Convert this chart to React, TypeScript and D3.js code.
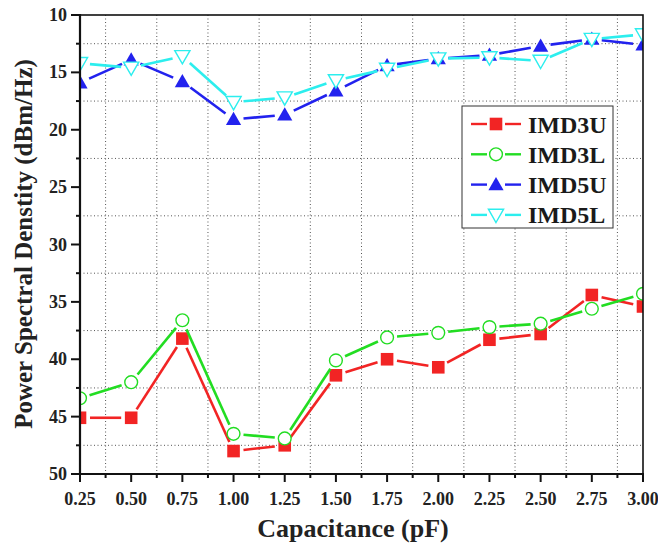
import React, { useEffect } from 'react';
import * as d3 from 'd3';

// capacitance steps (pF)
const capacitance = [0.25, 0.5, 0.75, 1.0, 1.25, 1.5, 1.75, 2.0, 2.25, 2.5, 2.75, 3.0];

// power spectral density readings (dBm/Hz)
const imd3u = [45.1, 45.1, 38.2, 48.0, 47.5, 41.4, 40.0, 40.7, 38.3, 37.8, 34.4, 35.4];
const imd3l = [43.4, 42.0, 36.6, 46.5, 46.9, 40.1, 38.1, 37.7, 37.2, 36.9, 35.6, 34.3];
const imd5u = [15.9, 13.9, 15.8, 19.1, 18.7, 16.6, 14.4, 13.8, 13.5, 12.7, 12.1, 12.6];
const imd5l = [14.2, 14.6, 13.6, 17.6, 17.2, 15.7, 14.7, 13.8, 13.7, 14.0, 12.1, 11.7];

const seriesNames = ['IMD3U', 'IMD3L', 'IMD5U', 'IMD5L'];
const seriesValues = [imd3u, imd3l, imd5u, imd5l];

const xTicks = [0.25, 0.5, 0.75, 1.0, 1.25, 1.5, 1.75, 2.0, 2.25, 2.5, 2.75, 3.0];
const yTicks = [10, 15, 20, 25, 30, 35, 40, 45, 50];

const W = 658;
const H = 543;
const margin = { top: 15, right: 15, bottom: 69, left: 80 };

const styles = [
  { color: '#f22424', shape: 'square', filled: true },
  { color: '#22dd22', shape: 'circle', filled: false },
  { color: '#2222ee', shape: 'up', filled: true },
  { color: '#2ceeee', shape: 'down', filled: false },
];

const FONT = '"Liberation Serif", "Times New Roman", serif';

function Marker({ shape, color, filled, x, y }: any) {
  const fill = filled ? color : 'white';
  const sw = filled ? 0 : 1.4;
  if (shape === 'square') {
    return <rect x={x - 6.3} y={y - 6.3} width={12.6} height={12.6} fill={fill} />;
  }
  if (shape === 'circle') {
    return <circle cx={x} cy={y} r={6.4} fill={fill} stroke={color} strokeWidth={sw} />;
  }
  const s = 7.6;
  const pts =
    shape === 'up'
      ? `${x},${y - s} ${x + s},${y + s * 0.75} ${x - s},${y + s * 0.75}`
      : `${x},${y + s} ${x + s},${y - s * 0.75} ${x - s},${y - s * 0.75}`;
  return <polygon points={pts} fill={fill} stroke={color} strokeWidth={sw} strokeLinejoin="miter" />;
}

export default function App() {
  useEffect(() => {
    document.body.style.margin = '0';
  }, []);

  const x = d3.scaleLinear().domain([0.25, 3.0]).range([margin.left, W - margin.right]);
  const y = d3.scaleLinear().domain([10, 50]).range([margin.top, H - margin.bottom]);

  const x0 = margin.left;
  const x1 = W - margin.right;
  const y0 = margin.top;
  const y1 = H - margin.bottom;

  const xMinor = d3.range(0.375, 3.0, 0.25);
  const yMinor = d3.range(12.5, 50, 5);

  // line segments with a small gap around each symbol
  const segments = (vals: number[]) => {
    const out: [number, number, number, number][] = [];
    for (let i = 0; i < vals.length - 1; i++) {
      const ax = x(capacitance[i]);
      const ay = y(vals[i]);
      const bx = x(capacitance[i + 1]);
      const by = y(vals[i + 1]);
      const len = Math.hypot(bx - ax, by - ay);
      const g = 10;
      if (len <= 2 * g) continue;
      const ux = (bx - ax) / len;
      const uy = (by - ay) / len;
      out.push([ax + ux * g, ay + uy * g, bx - ux * g, by - uy * g]);
    }
    return out;
  };

  const legend = { x: 462, y: 106, w: 151, h: 122 };

  return (
    <svg width={W} height={H} style={{ display: 'block', background: '#fff' }} fontFamily={FONT}>
      <defs>
        <clipPath id="plot">
          <rect x={x0} y={y0} width={x1 - x0} height={y1 - y0} />
        </clipPath>
      </defs>

      {/* dotted grid at minor positions */}
      <g stroke="#555" strokeWidth={1} strokeDasharray="1,2.5">
        {xMinor.map((v) => (
          <line key={'gx' + v} x1={x(v)} x2={x(v)} y1={y0} y2={y1} />
        ))}
        {yMinor.map((v) => (
          <line key={'gy' + v} x1={x0} x2={x1} y1={y(v)} y2={y(v)} />
        ))}
      </g>

      {/* series */}
      <g clipPath="url(#plot)">
        {seriesValues.map((vals, si) => (
          <g key={seriesNames[si]}>
            {segments(vals).map((s, i) => (
              <line
                key={i}
                x1={s[0]}
                y1={s[1]}
                x2={s[2]}
                y2={s[3]}
                stroke={styles[si].color}
                strokeWidth={2.6}
              />
            ))}
            {vals.map((v, i) => (
              <Marker
                key={i}
                shape={styles[si].shape}
                color={styles[si].color}
                filled={styles[si].filled}
                x={x(capacitance[i])}
                y={y(v)}
              />
            ))}
          </g>
        ))}
      </g>

      {/* frame */}
      <rect x={x0} y={y0} width={x1 - x0} height={y1 - y0} fill="none" stroke="#111" strokeWidth={1.6} />
      <line x1={x0} x2={x0} y1={y0 - 1} y2={y1 + 1} stroke="#111" strokeWidth={2.2} />
      <line x1={x0 - 1} x2={x1 + 1} y1={y1} y2={y1} stroke="#111" strokeWidth={2.2} />

      {/* y ticks */}
      <g stroke="#111" strokeWidth={2}>
        {yTicks.map((v) => (
          <line key={'yt' + v} x1={x0 - 9} x2={x0} y1={y(v)} y2={y(v)} />
        ))}
        {yMinor.map((v) => (
          <line key={'ym' + v} x1={x0 - 4} x2={x0} y1={y(v)} y2={y(v)} />
        ))}
        {xTicks.map((v) => (
          <line key={'xt' + v} x1={x(v)} x2={x(v)} y1={y1} y2={y1 + 8} />
        ))}
        {xMinor.map((v) => (
          <line key={'xm' + v} x1={x(v)} x2={x(v)} y1={y1} y2={y1 + 4} />
        ))}
      </g>

      <g fontSize={18} fontWeight="bold" fill="#222">
        {yTicks.map((v) => (
          <text key={'yl' + v} x={x0 - 13} y={y(v) + 6} textAnchor="end">
            {v}
          </text>
        ))}
        {xTicks.map((v) => (
          <text key={'xl' + v} x={x(v)} y={505} textAnchor="middle">
            {d3.format('.2f')(v)}
          </text>
        ))}
      </g>

      {/* axis titles */}
      <text x={353} y={537} fontSize={26} fontWeight="bold" fill="#222" textAnchor="middle">
        Capacitance (pF)
      </text>
      <text
        transform="translate(32,244) rotate(-90)"
        fontSize={25}
        fontWeight="bold"
        fill="#222"
        textAnchor="middle"
      >
        Power Spectral Denstity (dBm/Hz)
      </text>

      {/* legend */}
      <rect x={legend.x} y={legend.y} width={legend.w} height={legend.h} fill="white" stroke="#333" strokeWidth={1} />
      {seriesNames.map((name, i) => {
        const ly = 124 + i * 30.3;
        return (
          <g key={name}>
            <line x1={471} x2={487} y1={ly} y2={ly} stroke={styles[i].color} strokeWidth={2.4} />
            <line x1={505} x2={521} y1={ly} y2={ly} stroke={styles[i].color} strokeWidth={2.4} />
            <Marker shape={styles[i].shape} color={styles[i].color} filled={styles[i].filled} x={496} y={ly} />
            <text x={528} y={ly + 8.5} fontSize={24} fontWeight="bold" fill="#1a1a1a">
              {name}
            </text>
          </g>
        );
      })}
    </svg>
  );
}
